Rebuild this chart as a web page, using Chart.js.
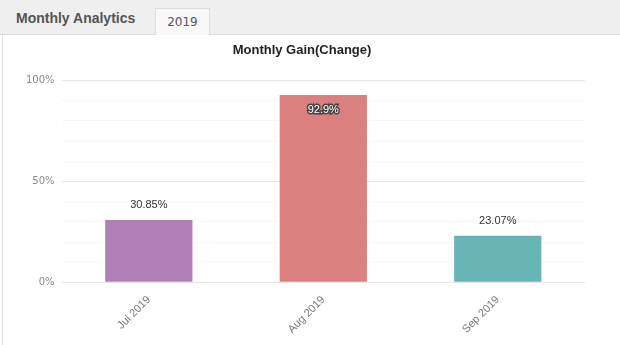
<!DOCTYPE html>
<html>
<head>
<meta charset="utf-8">
<script src="https://cdn.jsdelivr.net/npm/chart.js@4/dist/chart.umd.min.js"></script>
<style>
  body { margin: 0; background: #fff; font-family: "DejaVu Sans", Verdana, sans-serif; }
  .tabs { position: absolute; left: 0; top: 0; width: 620px; height: 34px; background: #efefef; border-bottom: 1px solid #dcdcdc; }
  .tab-title { position: absolute; left: 16px; top: 10px; font-family: "Liberation Sans", Arial, sans-serif; font-size: 14px; font-weight: bold; color: #555; }
  .tab { position: absolute; left: 155px; top: 8px; width: 55px; height: 27px; background: #f8f8f8; border: 1px solid #dcdcdc; border-bottom: none; box-sizing: border-box; text-align: center; line-height: 26px; font-size: 12px; color: #555; }
  .panel { position: absolute; left: 2px; top: 35px; width: 616px; height: 310px; border-left: 1px solid #e4e4e4; }
</style>
</head>
<body>
<div class="tabs">
  <div class="tab-title">Monthly Analytics</div>
  <div class="tab">2019</div>
</div>
<div class="panel">
  <canvas id="gain"></canvas>
</div>
<script>
const months = ['Jul 2019', 'Aug 2019', 'Sep 2019']
const gains = [30.85, 92.9, 23.07]
const barColors = ['#b07fb6', '#db807e', '#67b5b4']

const valueLabels = {
    id: 'valueLabels',
    afterDatasetsDraw(chart) {
        const ctx = chart.ctx
        const meta = chart.getDatasetMeta(0)
        ctx.save()
        ctx.font = '11px "Liberation Sans", Arial, sans-serif'
        ctx.textAlign = 'center'
        ctx.textBaseline = 'middle'
        meta.data.forEach((bar, i) => {
            const text = gains[i] + '%'
            let y = bar.y - 15
            if (y < chart.chartArea.top + 8) {
                y = bar.y + 15
                ctx.lineWidth = 3
                ctx.strokeStyle = '#444'
                ctx.strokeText(text, bar.x, y)
                ctx.fillStyle = '#fff'
                ctx.fillText(text, bar.x, y)
            } else {
                ctx.fillStyle = '#333'
                ctx.fillText(text, bar.x, y)
            }
        })
        ctx.restore()
    }
}

new Chart('gain', {
    type: 'bar',
    data: {
        labels: months,
        datasets: [{
            data: gains,
            backgroundColor: barColors,
            borderWidth: 0,
            categoryPercentage: 1,
            barPercentage: 0.5
        }]
    },
    options: {
        responsive: true,
        maintainAspectRatio: false,
        animation: false,
        layout: { padding: { left: 16, right: 34, top: 0, bottom: 6 } },
        plugins: {
            legend: { display: false },
            tooltip: { enabled: false },
            title: {
                display: true,
                text: 'Monthly Gain(Change)',
                color: '#222',
                font: { family: '"Liberation Sans", Arial, sans-serif', size: 13, weight: 'bold' },
                padding: { top: 8, bottom: 22 }
            }
        },
        scales: {
            y: {
                min: 0,
                max: 100,
                border: { display: false },
                grid: {
                    color: (c) => c.tick.value % 50 === 0 ? '#e6e6e6' : '#f5f5f5',
                    drawTicks: false
                },
                ticks: {
                    stepSize: 10,
                    autoSkip: false,
                    padding: 7,
                    color: '#888',
                    font: { family: '"DejaVu Sans", sans-serif', size: 10 },
                    callback: (v) => v % 50 === 0 ? v + '%' : ''
                }
            },
            x: {
                border: { display: false },
                grid: { display: false },
                ticks: {
                    maxRotation: 45,
                    minRotation: 45,
                    color: '#777',
                    padding: 3,
                    font: { family: '"Liberation Sans", Arial, sans-serif', size: 11 }
                }
            }
        }
    },
    plugins: [valueLabels]
})
</script>
</body>
</html>
